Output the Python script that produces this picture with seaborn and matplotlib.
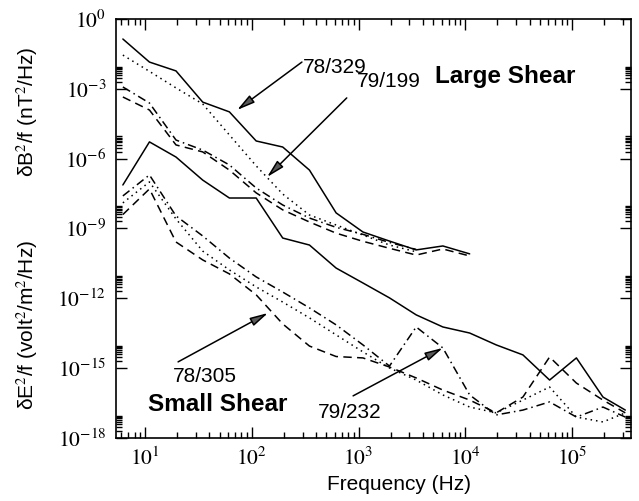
import numpy as np
import matplotlib
matplotlib.use("Agg")
import matplotlib.pyplot as plt
import seaborn as sns
from matplotlib.ticker import FixedLocator, FuncFormatter, NullFormatter

# ---------------- data ----------------
freq = [6.2, 11, 19.5, 34.7, 61.7, 110, 195, 347, 617, 1100, 1950, 3470,
        6170, 11000, 19500, 34700, 61700, 110000, 195000, 316000]

# log10 of dB^2/f (nT^2/Hz)
b_78_329 = [-0.86, -1.85, -2.23, -3.57, -3.99, -5.24, -5.50, -6.49, -8.33,
            -9.15, -9.54, -9.92, -9.75, -10.09]
b_79_199 = [-1.55, -2.25, -2.96, -3.65, -4.98, -6.31, -7.52, -8.42, -8.85,
            -9.28, -9.71, -10.0]
b_78_305 = [-3.35, -3.91, -5.41, -5.71, -6.49, -7.47, -8.20, -8.72, -9.20,
            -9.55, -9.85, -10.14, -9.88, -10.18]
b_79_232 = [-2.92, -3.61, -5.20, -5.63, -6.27, -7.26, -7.99, -8.55, -8.95,
            -9.25, -9.60, -9.90]

# log10 of dE^2/f (volt^2/m^2/Hz)
e_78_329 = [-7.13, -5.28, -5.93, -6.92, -7.69, -7.69, -9.41, -9.71, -10.70,
            -11.34, -11.98, -12.71, -13.23, -13.49, -14.00, -14.43, -15.51,
            -14.56, -16.24, -16.80]
e_79_199 = [-7.90, -7.00, -8.59, -9.97, -10.78, -11.51, -12.16, -12.84,
            -13.57, -14.30, -14.99, -15.51, -16.15, -16.67, -16.92, -16.37,
            -15.81, -17.10, -17.31, -16.92]
e_78_305 = [-8.40, -7.30, -9.58, -10.35, -10.95, -11.85, -13.10, -14.05,
            -14.50, -14.56, -14.95, -15.42, -15.94, -16.37, -16.92, -16.24,
            -14.52, -15.64, -16.37, -16.92]
e_79_232 = [-7.60, -6.70, -8.46, -9.32, -10.27, -11.08, -11.73, -12.41,
            -13.14, -14.00, -14.91, -13.23, -14.13, -16.15, -17.01, -16.80,
            -16.45, -17.10, -16.67, -17.10]

events = ["78/329", "79/199", "78/305", "79/232"]
b_series = [b_78_329, b_79_199, b_78_305, b_79_232]
e_series = [e_78_329, e_79_199, e_78_305, e_79_232]

# ---------------- style ----------------
sns.set_theme(style="ticks")
plt.rcParams["font.family"] = ["Liberation Sans", "DejaVu Sans"]
plt.rcParams["mathtext.fontset"] = "stix"
plt.rcParams["axes.linewidth"] = 1.2
for key in ["text.color", "axes.labelcolor", "xtick.color", "ytick.color",
            "axes.edgecolor"]:
    plt.rcParams[key] = "black"

dash_map = {"78/329": None, "79/199": (1.0, 2.6), "78/305": (5.5, 3.5),
            "79/232": (5.5, 2.6, 1.0, 2.6)}

fig = plt.figure(figsize=(6.39, 5.01), dpi=100)
ax = fig.add_axes([116 / 639, 1 - 438 / 501, 515 / 639, 419 / 501])
ax.set_xscale("log")
ax.set_yscale("log")

for ev, b, e in zip(events, b_series, e_series):
    for vals in (b, e):
        n = len(vals)
        sns.lineplot(x=freq[:n], y=10 ** np.array(vals), ax=ax, color="black",
                     linewidth=1.1, sort=False, estimator=None, legend=False)
        line = ax.lines[-1]
        if dash_map[ev] is not None:
            line.set_dashes(dash_map[ev])

ax.set_xlim(10 ** 0.728, 10 ** 5.553)
ax.set_ylim(1e-18, 1e0)

# ticks
ax.xaxis.set_major_locator(FixedLocator([1e1, 1e2, 1e3, 1e4, 1e5]))
ax.xaxis.set_major_formatter(FuncFormatter(lambda v, p: r"$10^{%d}$" % round(np.log10(v))))
xminor = [k * 10.0 ** n for n in range(0, 6) for k in range(2, 10)]
ax.xaxis.set_minor_locator(FixedLocator(xminor))
ax.xaxis.set_minor_formatter(NullFormatter())

ymaj = [10.0 ** (-3 * m) for m in range(0, 7)]
ax.yaxis.set_major_locator(FixedLocator(ymaj))
ax.yaxis.set_major_formatter(FuncFormatter(lambda v, p: r"$10^{%d}$" % round(np.log10(v))))
yminor = [k * 10.0 ** n for n in range(-18, 0, 3) for k in range(2, 10)]
ax.yaxis.set_minor_locator(FixedLocator(yminor))
ax.yaxis.set_minor_formatter(NullFormatter())

ax.tick_params(which="both", direction="in", top=True, right=True,
               color="black", width=1.0, labelcolor="black")
ax.tick_params(which="major", length=8, labelsize=15.5, pad=7)
ax.tick_params(which="minor", length=4)

# axis labels
fig.text(27 / 639, 1 - 112 / 501, r"δB$^2$/f (nT$^2$/Hz)", rotation=90,
         ha="center", va="center", fontsize=15, color="black")
fig.text(27 / 639, 1 - 325 / 501, r"δE$^2$/f (volt$^2$/m$^2$/Hz)", rotation=90,
         ha="center", va="center", fontsize=15, color="black")
fig.text(399 / 639, 1 - 485 / 501, "Frequency (Hz)", ha="center", va="center",
         fontsize=15, color="black")

# annotations
arrow_kw = dict(arrowstyle="-|>,head_length=0.9,head_width=0.22", color="black",
                lw=1.1, shrinkA=0, shrinkB=0, fc="0.35")
ax.annotate("", xy=(72.8, 10 ** -3.91), xytext=(295, 10 ** -1.85), arrowprops=arrow_kw)
ax.annotate("", xy=(139, 10 ** -6.79), xytext=(776, 10 ** -3.39), arrowprops=arrow_kw)
ax.annotate("", xy=(142, 10 ** -12.63), xytext=(20.4, 10 ** -14.73), arrowprops=arrow_kw)
ax.annotate("", xy=(6170, 10 ** -14.13), xytext=(890, 10 ** -16.19), arrowprops=arrow_kw)

ax.text(0.425, 0.885, "78/329", transform=ax.transAxes, ha="center", va="center",
        fontsize=15, color="black")
ax.text(0.530, 0.852, "79/199", transform=ax.transAxes, ha="center", va="center",
        fontsize=15, color="black")
ax.text(0.755, 0.862, "Large Shear", transform=ax.transAxes, ha="center", va="center",
        fontsize=17.5, fontweight="bold", color="black")
ax.text(0.173, 0.146, "78/305", transform=ax.transAxes, ha="center", va="center",
        fontsize=15, color="black")
ax.text(0.198, 0.079, "Small Shear", transform=ax.transAxes, ha="center", va="center",
        fontsize=17.5, fontweight="bold", color="black")
ax.text(0.454, 0.062, "79/232", transform=ax.transAxes, ha="center", va="center",
        fontsize=15, color="black")

fig.savefig("out.png", dpi=100, facecolor="white")
